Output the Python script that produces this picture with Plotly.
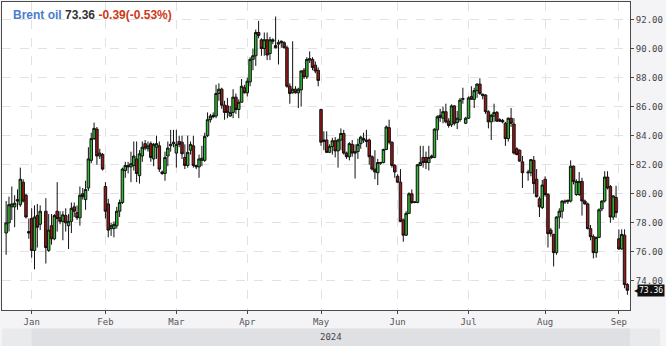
import plotly.graph_objects as go

# ---- data ----
dec_days = [18, 19, 20, 21, 22, 26, 27, 28, 29]
jan_days = [2, 3, 4, 5, 8, 9, 10, 11, 12, 14, 15, 16, 17, 18, 19, 21, 22, 23, 24, 25, 26, 28, 29, 30, 31]
feb_days = [1, 2, 4, 5, 6, 7, 8, 9, 11, 12, 13, 14, 15, 16, 18, 19, 20, 21, 22, 23, 25, 26, 27, 28, 29]
mar_days = [1, 3, 4, 5, 6, 7, 8, 10, 11, 12, 13, 14, 15, 17, 18, 19, 20, 21, 22, 24, 25, 26, 27, 28, 31]
apr_days = [1, 2, 3, 4, 5, 7, 8, 9, 10, 11, 12, 14, 15, 16, 17, 18, 19, 21, 22, 23, 24, 25, 26, 28, 29, 30]
may_days = [1, 2, 3, 5, 6, 7, 8, 9, 10, 12, 13, 14, 15, 16, 17, 19, 20, 21, 22, 23, 24, 26, 27, 28, 29, 30, 31]
jun_days = [2, 3, 4, 5, 6, 7, 9, 10, 11, 12, 13, 14, 16, 17, 18, 19, 20, 21, 23, 24, 25, 26, 27, 28, 30]
jul_days = [1, 2, 3, 4, 5, 7, 8, 9, 10, 11, 12, 14, 15, 16, 17, 18, 19, 21, 22, 23, 25, 26, 28, 29, 30, 31]
aug_days = [1, 2, 4, 5, 6, 7, 8, 9, 11, 12, 13, 14, 15, 16, 18, 19, 20, 21, 22, 23, 25, 26, 27, 28, 29, 30]
sep_days = [1, 2, 3, 4]
market_holidays = ["2023-12-24", "2023-12-25", "2023-12-31", "2024-01-01", "2024-03-29"]

opens = [77.3, 78.0, 79.1, 79.1, 79.6, 79.25, 80.8, 79.9, 77.4,
         78.3, 76.1, 78.5, 77.9, 78.8, 76.1, 77.8, 76.9, 78.8, 78.35, 78.1, 78.5, 77.8, 78.1, 79.1, 78.7,
         78.35, 80.0, 79.6, 80.4, 82.3, 83.8, 84.45, 82.6, 82.7,
         80.5, 79.3, 77.6, 77.6, 77.8, 78.8, 79.4, 81.6, 81.95, 81.85, 81.95, 82.4, 81.25, 82.6, 83.45,
         83.1, 83.45, 82.4, 83.2, 83.3, 81.5, 81.4, 82.6, 83.3, 83.55,
         82.8, 83.6, 83.55, 82.5, 81.95, 83.0, 83.3, 81.95, 81.85, 82.3, 82.3, 84.0, 85.1, 85.4, 85.35,
         86.9, 87.2, 86.1, 86.05, 85.35, 85.6, 86.65, 85.8, 86.3, 87.3,
         86.95, 87.7, 89.25, 89.5, 91.1, 90.6, 90.0, 90.6, 89.65, 90.6, 90.2, 90.3, 90.4, 90.4, 90.05,
         87.4, 86.95, 87.2, 86.95, 87.15, 88.5, 88.05, 89.2, 89.25, 88.85, 88.5,
         85.8, 83.6, 83.7, 82.85, 83.25, 83.65, 82.95, 83.7, 84.15, 82.8, 82.55, 83.4, 82.9, 82.9, 83.45,
         83.8, 83.7, 83.7, 82.55, 81.7, 81.45, 82.1, 82.15, 83.05, 84.55, 83.55, 81.95,
         81.2, 80.8, 78.2, 77.15, 78.65, 80.0, 79.45, 79.4, 81.95, 82.5, 82.5, 82.15, 82.6, 82.5, 84.4,
         85.4, 85.2, 85.65, 85.0, 84.75, 86.05, 84.9, 85.1, 86.5, 84.85,
         85.2, 86.7, 86.5, 87.1, 87.55, 86.85, 86.8, 85.65, 84.95, 85.35, 85.6, 85.1, 85.05, 84.85, 83.8,
         85.2, 84.8, 83.1, 83.0, 82.2, 81.5, 81.45, 82.3, 81.0, 79.65, 79.05,
         81.0, 79.95, 77.5, 77.2, 75.95, 78.4, 78.8, 79.5, 79.45, 79.5, 81.9, 79.95, 79.95, 80.85, 79.5,
         79.3, 77.6, 77.05, 75.95, 77.0, 78.95, 79.5, 81.15, 80.5, 78.4, 79.75,
         76.9, 76.2, 77.15, 73.75]
highs = [79.5, 79.8, 80.5, 79.9, 80.3, 81.8, 81.0, 80.0, 78.3,
         79.0, 79.2, 79.3, 79.2, 79.7, 78.6, 78.6, 78.6, 80.8, 78.8, 78.8, 79.0, 78.6, 79.4, 79.4, 79.2,
         80.5, 80.4, 80.9, 83.2, 84.2, 84.9, 84.6, 83.1, 82.8,
         80.8, 79.65, 78.0, 78.1, 79.1, 79.6, 81.8, 82.2, 82.2, 82.9, 83.6, 83.6, 83.0, 83.6, 83.7,
         83.6, 83.6, 83.5, 84.0, 83.6, 81.6, 82.9, 83.6, 84.4, 84.4,
         84.4, 84.0, 84.0, 83.4, 84.0, 83.6, 84.0, 82.0, 82.7, 83.3, 84.2, 85.6, 85.5, 85.6, 87.5,
         87.6, 87.3, 86.4, 86.6, 86.05, 87.2, 86.9, 86.5, 87.9, 87.5,
         88.0, 89.4, 90.0, 91.3, 91.9, 90.7, 91.1, 91.1, 90.8, 90.7, 92.2, 90.6, 90.55, 90.5, 90.2,
         87.6, 90.5, 87.4, 87.3, 88.5, 88.66, 89.4, 89.8, 89.4, 89.1, 88.7,
         85.85, 84.3, 84.3, 83.4, 83.85, 83.9, 83.8, 84.5, 84.4, 82.9, 83.55, 83.7, 83.4, 83.8, 84.0,
         84.2, 84.4, 83.8, 82.65, 83.0, 82.4, 82.2, 83.1, 84.7, 85.1, 83.6, 82.05,
         81.35, 81.7, 78.3, 78.8, 80.1, 80.3, 79.5, 82.05, 83.3, 83.3, 82.9, 83.3, 82.7, 84.5, 85.4,
         85.85, 86.0, 86.2, 85.2, 86.15, 86.1, 85.7, 86.6, 87.3, 85.3,
         86.7, 87.4, 87.3, 87.6, 87.95, 86.9, 86.85, 85.75, 85.5, 86.2, 85.7, 85.2, 85.15, 84.95, 85.25,
         85.9, 85.2, 83.2, 83.05, 82.6, 81.65, 82.4, 82.6, 81.7, 79.8, 80.95,
         81.2, 80.05, 77.65, 77.25, 78.45, 79.0, 79.55, 79.6, 79.6, 82.3, 81.95, 81.0, 81.5, 81.1, 79.6,
         79.4, 77.85, 77.2, 77.05, 79.0, 79.55, 81.55, 81.55, 80.6, 79.9, 80.55,
         77.55, 77.55, 77.55, 73.85]
lows = [75.8, 77.4, 78.2, 77.7, 78.9, 79.1, 79.4, 78.3, 76.9,
        75.6, 74.8, 76.3, 77.5, 75.2, 76.0, 76.5, 76.8, 77.4, 77.9, 76.8, 77.4, 76.2, 77.3, 78.4, 78.2,
        77.8, 79.6, 78.9, 80.2, 82.1, 83.7, 82.0, 82.4, 81.6,
        78.3, 77.0, 77.1, 77.0, 77.6, 78.4, 79.3, 81.1, 81.4, 80.8, 81.6, 80.8, 80.7, 82.2, 83.0,
        82.9, 82.2, 81.9, 82.4, 81.5, 81.3, 80.9, 81.9, 82.9, 83.2,
        81.8, 83.2, 82.4, 81.7, 81.8, 82.7, 81.8, 81.7, 81.1, 81.9, 82.2, 83.9, 84.9, 85.2, 85.2,
        86.4, 85.85, 85.1, 85.2, 85.3, 85.2, 85.5, 85.2, 86.3, 86.9,
        86.7, 87.4, 88.5, 88.8, 90.7, 89.5, 89.5, 89.2, 89.2, 90.3, 90.0, 88.9, 90.05, 90.0, 87.3,
        86.2, 86.9, 86.9, 85.9, 86.0, 87.9, 87.9, 89.0, 88.5, 88.3, 87.4,
        83.3, 83.0, 82.8, 82.8, 82.7, 82.5, 81.8, 83.0, 82.7, 82.4, 82.3, 82.55, 81.05, 82.4, 83.1,
        83.5, 83.2, 82.0, 81.6, 81.0, 80.6, 82.0, 82.1, 83.0, 83.4, 81.8, 81.1,
        80.75, 78.05, 76.7, 77.1, 78.6, 79.3, 79.35, 79.35, 81.9, 81.8, 81.7, 81.6, 82.4, 82.45, 83.7,
        84.95, 84.85, 84.85, 84.55, 84.6, 84.7, 84.45, 84.95, 86.2, 84.8,
        85.15, 86.5, 85.9, 86.6, 86.8, 86.5, 85.5, 84.5, 83.7, 84.95, 84.95, 84.95, 84.85, 83.3, 83.6,
        84.6, 82.7, 82.65, 82.2, 80.4, 80.9, 81.2, 80.0, 79.75, 78.4, 78.95,
        79.8, 76.3, 77.05, 75.0, 75.8, 77.6, 78.3, 79.3, 79.3, 79.4, 80.65, 79.85, 79.85, 78.5, 79.25,
        77.55, 76.8, 75.55, 75.6, 76.95, 78.8, 79.4, 80.3, 78.0, 78.2, 78.35,
        76.15, 76.15, 73.5, 73.05]
closes = [78.0, 79.25, 79.3, 79.35, 79.5, 81.0, 79.5, 78.4, 77.3,
          76.1, 78.4, 77.7, 78.8, 76.3, 77.5, 76.9, 78.5, 78.3, 78.1, 78.55, 78.0, 78.1, 79.0, 78.8, 78.35,
          79.9, 79.8, 80.3, 82.4, 83.8, 84.5, 82.6, 82.8, 81.7,
          78.8, 77.5, 77.8, 77.9, 78.8, 79.4, 81.7, 81.95, 81.85, 82.07, 82.6, 81.4, 82.75, 83.2, 83.15,
          83.3, 82.5, 83.4, 83.45, 81.7, 81.4, 82.5, 83.15, 83.4, 83.45,
          83.4, 83.4, 82.75, 81.95, 82.85, 83.4, 81.95, 81.85, 82.4, 82.45, 83.95, 85.1, 85.35, 85.3, 86.9,
          87.2, 86.1, 85.6, 85.6, 85.6, 86.65, 85.8, 86.3, 87.4, 86.95,
          87.75, 89.25, 89.5, 91.1, 90.9, 90.0, 90.6, 89.55, 90.6, 90.5, 90.05, 90.4, 90.5, 90.05, 87.4,
          86.9, 87.2, 86.95, 87.2, 88.45, 88.05, 89.25, 89.3, 88.7, 88.45, 87.8,
          83.55, 83.7, 82.85, 83.25, 83.65, 82.95, 83.7, 84.15, 82.8, 82.55, 83.45, 82.8, 82.8, 83.4, 83.9,
          83.7, 83.6, 82.55, 81.7, 81.5, 82.15, 82.15, 83.05, 84.6, 83.55, 81.95, 81.5,
          80.8, 78.1, 77.15, 78.65, 80.0, 79.4, 79.4, 82.0, 82.15, 82.15, 82.15, 82.5, 82.5, 84.45, 85.3,
          85.25, 85.65, 84.95, 84.7, 86.05, 84.85, 85.2, 86.45, 86.55, 85.2,
          86.6, 86.5, 87.1, 87.55, 86.9, 86.75, 85.65, 84.95, 85.4, 85.6, 85.0, 85.0, 84.95, 83.8, 85.2,
          84.85, 82.8, 82.7, 82.25, 81.45, 81.45, 82.35, 80.7, 79.8, 79.1, 80.6,
          79.95, 77.25, 77.25, 75.95, 78.4, 78.8, 79.5, 79.45, 79.55, 81.9, 80.85, 80.85, 80.85, 79.5, 79.3,
          77.6, 77.05, 75.95, 77.0, 78.9, 79.5, 81.15, 80.4, 78.4, 79.85, 78.7,
          76.2, 77.2, 73.75, 73.36]

month_names = ["Jan", "Feb", "Mar", "Apr", "May", "Jun", "Jul", "Aug", "Sep"]
y_ticks = [74, 76, 78, 80, 82, 84, 86, 88, 90, 92]
instrument = "Brent oil"
x_window = ["2023-12-15 13:00", "2024-09-04 22:00"]
y_window = [72.0, 93.2]

# ---- build dates ----
dates = [f"2023-12-{d:02d}" for d in dec_days]
for m, days in enumerate([jan_days, feb_days, mar_days, apr_days, may_days,
                          jun_days, jul_days, aug_days, sep_days], start=1):
    dates += [f"2024-{m:02d}-{d:02d}" for d in days]

# first bar of each month -> tick
tickvals = []
seen = set()
for d in dates:
    if d.startswith("2024") and d[:7] not in seen:
        seen.add(d[:7])
        tickvals.append(d)

last = closes[-1]
prev = closes[-2]
chg = last - prev
pct = chg / prev * 100

mono = "DejaVu Sans Mono"
frame = "#4a4a4a"
grid = "#e2e2e2"

fig = go.Figure()
fig.add_trace(go.Candlestick(
    x=dates, open=opens, high=highs, low=lows, close=closes,
    increasing=dict(line=dict(color="#111111", width=1), fillcolor="#2fba2f"),
    decreasing=dict(line=dict(color="#111111", width=1), fillcolor="#9c1717"),
    whiskerwidth=0, hoverinfo="skip", showlegend=False,
))

fig.update_layout(
    width=666, height=346,
    margin=dict(l=2, r=36, t=2, b=36, autoexpand=False),
    paper_bgcolor="#f4f4f6", plot_bgcolor="#ffffff",
    boxgap=0.12, boxgroupgap=0,
    showlegend=False,
    xaxis=dict(
        type="date", range=x_window, rangeslider=dict(visible=False),
        rangebreaks=[dict(bounds=["sat", "sun"]),
                     dict(values=market_holidays, dvalue=86400000)],
        tickmode="array", tickvals=tickvals, ticktext=month_names[:len(tickvals)],
        showgrid=True, gridcolor=grid, griddash="dash", gridwidth=1,
        showline=True, linecolor=frame, linewidth=1, mirror=True,
        ticks="outside", ticklen=3, tickcolor=frame,
        tickfont=dict(family=mono, size=9, color="#555555"),
        zeroline=False, automargin=False,
    ),
    yaxis=dict(
        side="right", range=y_window,
        tickmode="array", tickvals=y_ticks, tickformat=".2f",
        showgrid=True, gridcolor=grid, griddash="dash", gridwidth=1,
        showline=True, linecolor=frame, linewidth=1, mirror=True,
        ticks="outside", ticklen=3, tickcolor=frame,
        tickfont=dict(family=mono, size=9, color="#444444"),
        zeroline=False, automargin=False,
    ),
)

# year band below the axis
fig.add_shape(type="rect", xref="paper", yref="paper", x0=0, x1=1.048, y0=-0.117, y1=-0.060,
              fillcolor="#e9eaec", line=dict(width=0), layer="above")
fig.add_shape(type="rect", xref="x", yref="paper", x0=tickvals[0], x1=x_window[1],
              y0=-0.117, y1=-0.060, fillcolor="#dfe0e3", line=dict(width=0), layer="above")
fig.add_annotation(xref="paper", yref="paper", x=(0.047 + 1) / 2, y=-0.089, yanchor="middle",
                   text="2024", showarrow=False, font=dict(family=mono, size=9, color="#444444"))

# title line
fig.add_annotation(
    xref="paper", yref="paper", x=0.014, y=1, xanchor="left", yanchor="top", yshift=-4,
    text=(f"<b><span style='color:#4a7ccc'>{instrument}</span> "
          f"<span style='color:#333333'>{last:.2f}</span> "
          f"<span style='color:#cc3a1a'>{chg:+.2f}({pct:+.2f}%)</span></b>"),
    showarrow=False, font=dict(family="Liberation Sans", size=12),
)

# last price marker
fig.add_annotation(xref="paper", yref="y", x=1, y=last, xanchor="left", xshift=7,
                   text=f"{last:.2f}", showarrow=False, bgcolor="#111111", borderpad=1,
                   font=dict(family=mono, size=8, color="#ffffff"))
fig.add_annotation(xref="paper", yref="y", x=1, y=last, xanchor="left", xshift=2,
                   text="\u25c0", showarrow=False,
                   font=dict(family="DejaVu Sans", size=8, color="#111111"))

fig.write_html("out.html")
